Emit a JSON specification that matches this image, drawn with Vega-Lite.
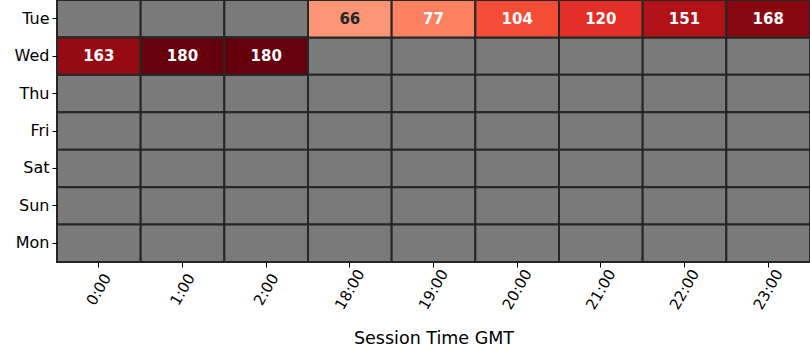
{
  "$schema": "https://vega.github.io/schema/vega-lite/v6.json",
  "width": 753,
  "height": 262,
  "autosize": {"type": "none"},
  "padding": {"left": 57, "top": 0, "right": 0, "bottom": 98},
  "background": "white",
  "config": {"view": {"stroke": null}, "font": "DejaVu Sans"},
  "data": {"values": [
    {"day": "Tue", "t": "0:00", "v": null}, {"day": "Tue", "t": "1:00", "v": null}, {"day": "Tue", "t": "2:00", "v": null},
    {"day": "Tue", "t": "18:00", "v": 66}, {"day": "Tue", "t": "19:00", "v": 77}, {"day": "Tue", "t": "20:00", "v": 104},
    {"day": "Tue", "t": "21:00", "v": 120}, {"day": "Tue", "t": "22:00", "v": 151}, {"day": "Tue", "t": "23:00", "v": 168},
    {"day": "Wed", "t": "0:00", "v": 163}, {"day": "Wed", "t": "1:00", "v": 180}, {"day": "Wed", "t": "2:00", "v": 180},
    {"day": "Wed", "t": "18:00", "v": null}, {"day": "Wed", "t": "19:00", "v": null}, {"day": "Wed", "t": "20:00", "v": null},
    {"day": "Wed", "t": "21:00", "v": null}, {"day": "Wed", "t": "22:00", "v": null}, {"day": "Wed", "t": "23:00", "v": null},
    {"day": "Thu", "t": "0:00", "v": null}, {"day": "Thu", "t": "1:00", "v": null}, {"day": "Thu", "t": "2:00", "v": null},
    {"day": "Thu", "t": "18:00", "v": null}, {"day": "Thu", "t": "19:00", "v": null}, {"day": "Thu", "t": "20:00", "v": null},
    {"day": "Thu", "t": "21:00", "v": null}, {"day": "Thu", "t": "22:00", "v": null}, {"day": "Thu", "t": "23:00", "v": null},
    {"day": "Fri", "t": "0:00", "v": null}, {"day": "Fri", "t": "1:00", "v": null}, {"day": "Fri", "t": "2:00", "v": null},
    {"day": "Fri", "t": "18:00", "v": null}, {"day": "Fri", "t": "19:00", "v": null}, {"day": "Fri", "t": "20:00", "v": null},
    {"day": "Fri", "t": "21:00", "v": null}, {"day": "Fri", "t": "22:00", "v": null}, {"day": "Fri", "t": "23:00", "v": null},
    {"day": "Sat", "t": "0:00", "v": null}, {"day": "Sat", "t": "1:00", "v": null}, {"day": "Sat", "t": "2:00", "v": null},
    {"day": "Sat", "t": "18:00", "v": null}, {"day": "Sat", "t": "19:00", "v": null}, {"day": "Sat", "t": "20:00", "v": null},
    {"day": "Sat", "t": "21:00", "v": null}, {"day": "Sat", "t": "22:00", "v": null}, {"day": "Sat", "t": "23:00", "v": null},
    {"day": "Sun", "t": "0:00", "v": null}, {"day": "Sun", "t": "1:00", "v": null}, {"day": "Sun", "t": "2:00", "v": null},
    {"day": "Sun", "t": "18:00", "v": null}, {"day": "Sun", "t": "19:00", "v": null}, {"day": "Sun", "t": "20:00", "v": null},
    {"day": "Sun", "t": "21:00", "v": null}, {"day": "Sun", "t": "22:00", "v": null}, {"day": "Sun", "t": "23:00", "v": null},
    {"day": "Mon", "t": "0:00", "v": null}, {"day": "Mon", "t": "1:00", "v": null}, {"day": "Mon", "t": "2:00", "v": null},
    {"day": "Mon", "t": "18:00", "v": null}, {"day": "Mon", "t": "19:00", "v": null}, {"day": "Mon", "t": "20:00", "v": null},
    {"day": "Mon", "t": "21:00", "v": null}, {"day": "Mon", "t": "22:00", "v": null}, {"day": "Mon", "t": "23:00", "v": null}
  ]},
  "encoding": {
    "x": {"field": "t", "type": "ordinal",
      "sort": ["0:00", "1:00", "2:00", "18:00", "19:00", "20:00", "21:00", "22:00", "23:00"],
      "scale": {"paddingInner": 0, "paddingOuter": 0},
      "axis": {"title": "Session Time GMT", "titleFontSize": 17.5, "titleFontWeight": "normal", "titleColor": "#000", "titlePadding": 18,
        "labelAngle": -60, "labelAlign": "center", "labelBaseline": "middle", "labelFontSize": 15, "labelColor": "#000",
        "labelPadding": 22, "tickSize": 5, "tickColor": "#000", "domain": false}},
    "y": {"field": "day", "type": "ordinal",
      "sort": ["Tue", "Wed", "Thu", "Fri", "Sat", "Sun", "Mon"],
      "scale": {"paddingInner": 0, "paddingOuter": 0},
      "axis": {"title": null, "labelFontSize": 16, "labelColor": "#000", "labelPadding": 3, "tickSize": 5, "tickColor": "#000", "domain": false}}
  },
  "layer": [
    {"mark": {"type": "rect", "stroke": "#262626", "strokeWidth": 2, "fill": "#7a7a7a"}},
    {"mark": {"type": "rect", "stroke": "#262626", "strokeWidth": 2},
     "transform": [{"filter": "datum.v != null"}],
     "encoding": {"color": {
       "field": "v", "type": "quantitative",
       "scale": {"domain": [0, 22.5, 45, 67.5, 90, 112.5, 135, 157.5, 180],
                 "range": ["#fff5f0", "#fee0d2", "#fcbba1", "#fc9272", "#fb6a4a", "#ef3b2c", "#cb181d", "#a50f15", "#67000d"],
                 "interpolate": "rgb"},
       "legend": null}}},
    {"mark": {"type": "text", "fontWeight": "bold", "fontSize": 15},
     "transform": [{"filter": "datum.v != null"}],
     "encoding": {"text": {"field": "v", "type": "quantitative"},
       "color": {"condition": {"test": "datum.v < 70", "value": "#262626"}, "value": "#ffffff"}}}
  ]
}
